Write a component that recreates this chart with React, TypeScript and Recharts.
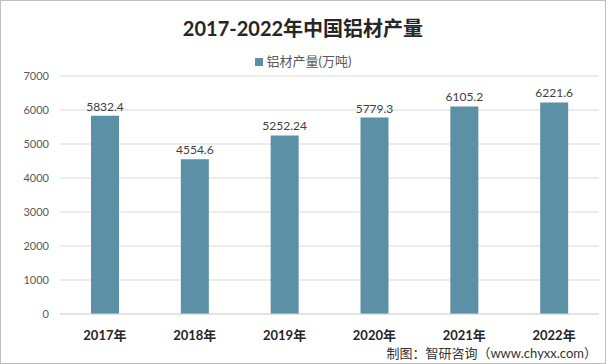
import React from 'react'
import { Bar, BarChart, CartesianGrid, LabelList, XAxis, YAxis } from 'recharts'

// 2017-2022 中国铝材产量 (万吨)
const years = ['2017年', '2018年', '2019年', '2020年', '2021年', '2022年']
const output = [5832.4, 4554.6, 5252.24, 5779.3, 6105.2, 6221.6]
const yTicks = [0, 1000, 2000, 3000, 4000, 5000, 6000, 7000]

const data = years.map((y, i) => ({ year: y, 铝材产量: output[i] }))

const FONT = 'Lato, "Noto Sans CJK SC", sans-serif'
const BAR = '#5b90a6'

const App = () => {
  return (
    <div
      style={{
        position: 'absolute',
        left: 0,
        top: 0,
        width: 606,
        height: 364,
        boxSizing: 'border-box',
        border: '1px solid #bfbfbf',
        background: '#fff',
        fontFamily: FONT,
      }}
    >
      <div
        style={{
          position: 'absolute',
          top: 12,
          width: '100%',
          textAlign: 'center',
          fontSize: 20,
          fontWeight: 700,
          color: '#262626',
        }}
      >
        2017-2022年中国铝材产量
      </div>
      {/* legend */}
      <div
        style={{
          position: 'absolute',
          top: 50,
          width: '100%',
          textAlign: 'center',
          fontSize: 13,
          color: '#595959',
        }}
      >
        <span style={{ display: 'inline-block', width: 8, height: 8, background: BAR, marginRight: 4 }} />
        铝材产量(万吨)
      </div>
      <div style={{ position: 'absolute', left: -1, top: -1 }}>
        <BarChart width={606} height={364} data={data} margin={{ top: 76, right: 7, left: 0, bottom: 20 }}>
          <CartesianGrid vertical={false} stroke="#d9d9d9" />
          <XAxis
            dataKey="year"
            tickLine={false}
            axisLine={{ stroke: '#d9d9d9' }}
            tick={{ fontSize: 13, fontWeight: 700, fill: '#262626', fontFamily: FONT }}
            tickMargin={11}
          />
          <YAxis
            width={60}
            domain={[0, 7000]}
            ticks={yTicks}
            tickLine={false}
            axisLine={false}
            tickMargin={5}
            tick={{ fontSize: 11, fill: '#595959', fontFamily: FONT }}
          />
          <Bar dataKey="铝材产量" fill={BAR} barSize={28} isAnimationActive={false}>
            <LabelList dataKey="铝材产量" position="top" style={{ fontSize: 12, fill: '#404040', fontFamily: FONT }} />
          </Bar>
        </BarChart>
      </div>
      <div
        style={{
          position: 'absolute',
          right: 8,
          top: 342,
          fontSize: 13,
          color: '#333',
        }}
      >
        制图：智研咨询（www.chyxx.com）
      </div>
    </div>
  )
}

export default App
